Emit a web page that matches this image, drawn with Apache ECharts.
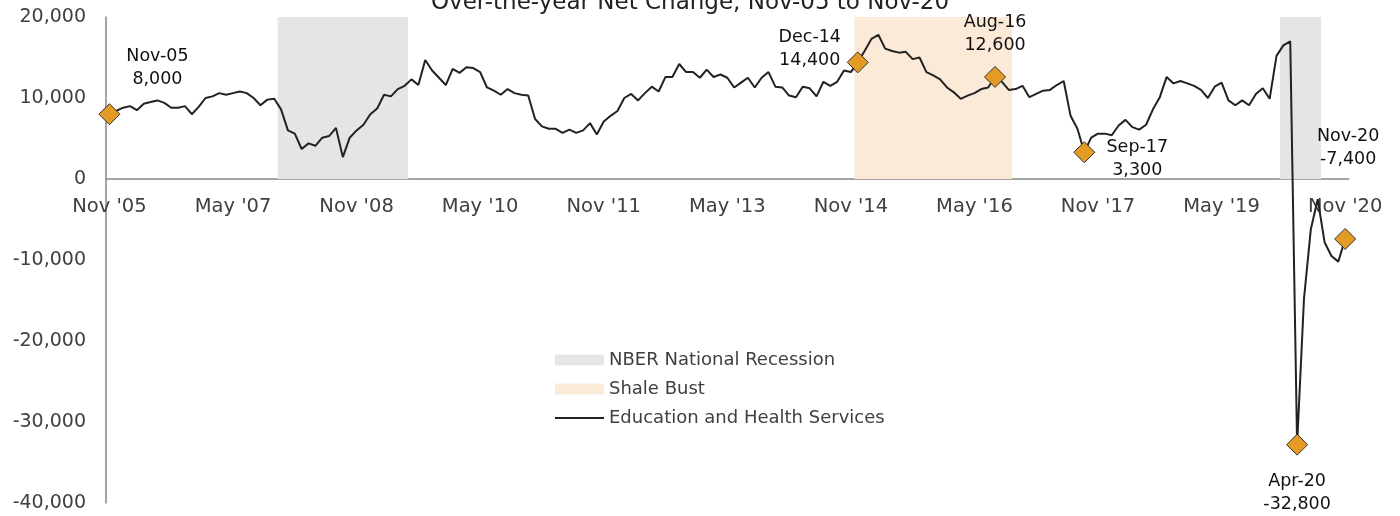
<!DOCTYPE html>
<html><head><meta charset="utf-8">
<script src="https://cdn.jsdelivr.net/npm/echarts@6/dist/echarts.min.js"></script>
<style>html,body{margin:0;padding:0;background:#fff}#c{width:1400px;height:516px}</style>
</head><body><div id="c"></div>
<script>
// ---- data ----
const monthNames = ['Jan','Feb','Mar','Apr','May','Jun','Jul','Aug','Sep','Oct','Nov','Dec'];
const firstYear = 2005, firstMonthIndex = 10, monthCount = 181; // Nov-05 .. Nov-20
const categories = [];
for (let k = 0; k < monthCount; k++) {
  const m = (firstMonthIndex + k) % 12;
  const y = firstYear + Math.floor((firstMonthIndex + k) / 12);
  categories.push(monthNames[m] + '-' + String(y % 100).padStart(2, '0'));
}
const netChange = [
  8000, 8400, 8800, 9000, 8500, 9300, 9500, 9700, 9400, 8800,
  8800, 9000, 8000, 8900, 10000, 10200, 10600, 10400, 10600, 10800,
  10600, 10000, 9100, 9800, 9900, 8600, 6000, 5600, 3700, 4400,
  4100, 5100, 5300, 6300, 2700, 5100, 6000, 6700, 8000, 8700,
  10400, 10200, 11100, 11500, 12300, 11600, 14700, 13400, 12500, 11600,
  13600, 13100, 13800, 13700, 13200, 11300, 10900, 10400, 11100, 10600,
  10400, 10300, 7400, 6500, 6200, 6200, 5700, 6100, 5700, 6000,
  6900, 5500, 7100, 7800, 8400, 10000, 10500, 9700, 10600, 11400,
  10800, 12600, 12600, 14200, 13200, 13200, 12500, 13500, 12600, 12900,
  12500, 11300, 11900, 12500, 11300, 12500, 13200, 11400, 11300, 10300,
  10100, 11400, 11200, 10200, 12000, 11500, 12000, 13400, 13200, 14400,
  15800, 17300, 17800, 16100, 15800, 15600, 15700, 14800, 15000, 13200,
  12800, 12300, 11300, 10700, 9900, 10300, 10600, 11100, 11300, 12600,
  12000, 11000, 11100, 11500, 10100, 10500, 10900, 11000, 11600, 12100,
  7800, 6200, 3300, 5100, 5600, 5600, 5400, 6600, 7300, 6400,
  6100, 6700, 8600, 10100, 12600, 11800, 12100, 11800, 11500, 11000,
  10000, 11400, 11900, 9700, 9100, 9700, 9100, 10500, 11200, 9900,
  15200, 16500, 17000, -32800, -14800, -6200, -2500, -7800, -9500, -10200,
  -7400
];
const tickLabels = ["Nov '05","May '07","Nov '08","May '10","Nov '11","May '13","Nov '14","May '16","Nov '17","May '19","Nov '20"];
const recessionPeriods = [['Dec-07','Jun-09'], ['Feb-20','Jul-20']];
const shalePeriods = [['Dec-14','Oct-16']];
const calloutMonths = ['Nov-05','Dec-14','Aug-16','Sep-17','Apr-20','Nov-20'];
const bandTop = 20000;
const titleText = 'Over-the-year Net Change, Nov-05 to Nov-20';

// ---- chart ----
const FONT = 'DejaVu Sans';
const Y_MIN = -40000, Y_MAX = 20000;
const GRID_TOP = 17, GRID_BOTTOM = 13, CHART_H = 516;
const gridH = CHART_H - GRID_TOP - GRID_BOTTOM;
const zeroOffset = -gridH * (0 - Y_MIN) / (Y_MAX - Y_MIN);

const bandSeries = (name, periods, color) => ({
  name, type: 'custom', silent: true, z: 1,
  itemStyle: { color },
  data: periods.map(p => [categories.indexOf(p[0]), categories.indexOf(p[1])]),
  encode: { x: [0, 1] },
  renderItem: (params, api) => {
    const bw = api.size([1, 0])[0];
    const p0 = api.coord([api.value(0), bandTop]);
    const p1 = api.coord([api.value(1), 0]);
    return { type: 'rect', shape: { x: p0[0] - bw / 2, y: p0[1], width: p1[0] - p0[0] + bw, height: p1[1] - p0[1] },
      style: { fill: color } };
  }
});

const labelOffsets = {
  'Nov-05': [48, -46], 'Dec-14': [-48, -13], 'Aug-16': [0, -43],
  'Sep-17': [53, 7], 'Apr-20': [0, 48], 'Nov-20': [3, -91]
};
const calloutData = calloutMonths.map(m => {
  const v = netChange[categories.indexOf(m)];
  return {
    value: [m, v],
    label: { show: true, position: 'inside', offset: labelOffsets[m],
      formatter: m + '\n' + v.toLocaleString('en-US') }
  };
});

const chart = echarts.init(document.getElementById('c'), null, { renderer: 'canvas' });
chart.setOption({
  animation: false,
  backgroundColor: '#fff',
  graphic: [{
    type: 'text', x: 690, y: 15, z: 10,
    style: { text: titleText, font: '23px "' + FONT + '"', fill: '#222',
      align: 'center', verticalAlign: 'bottom', textAlign: 'center', textVerticalAlign: 'bottom' }
  }],
  grid: { left: 106, right: 51.4, top: GRID_TOP, bottom: GRID_BOTTOM, containLabel: false, outerBoundsMode: 'none' },
  legend: {
    orient: 'vertical', left: 554, top: 350, padding: 0, itemWidth: 49, itemHeight: 11, itemGap: 9,
    textStyle: { fontFamily: FONT, fontSize: 18, color: '#404040', lineHeight: 20 },
    data: [
      { name: 'NBER National Recession', icon: 'rect' },
      { name: 'Shale Bust', icon: 'rect' },
      { name: 'Education and Health Services', itemStyle: { opacity: 0 } }
    ]
  },
  xAxis: {
    type: 'category', data: categories, boundaryGap: true, position: 'bottom', offset: zeroOffset,
    axisLine: { onZero: false, lineStyle: { color: '#868686', width: 1.5 } },
    axisTick: { interval: 17, length: 6, alignWithLabel: false, lineStyle: { color: '#868686', width: 1.5 } },
    axisLabel: {
      interval: 17, margin: 18, fontFamily: FONT, fontSize: 19.5, color: '#404040',
      formatter: (v, i) => (i % 18 === 0 ? tickLabels[i / 18] : '')
    },
    splitLine: { show: false }
  },
  yAxis: {
    type: 'value', min: Y_MIN, max: Y_MAX, interval: 10000,
    axisLine: { show: true, lineStyle: { color: '#868686', width: 1.5 } },
    axisTick: { show: false },
    splitLine: { show: false },
    axisLabel: { margin: 20, fontFamily: FONT, fontSize: 19, color: '#404040',
      formatter: v => v.toLocaleString('en-US') }
  },
  series: [
    bandSeries('NBER National Recession', recessionPeriods, '#e5e5e5'),
    bandSeries('Shale Bust', shalePeriods, '#fbead7'),
    { name: 'Education and Health Services', type: 'line', data: netChange, symbol: 'none', showSymbol: false,
      lineStyle: { color: '#222', width: 2 }, itemStyle: { color: '#222' }, z: 3 },
    { name: 'callouts', type: 'scatter', data: calloutData, symbol: 'diamond', symbolSize: 21,
      itemStyle: { color: '#e39b26', borderColor: '#333', borderWidth: 1, opacity: 1 },
      label: { fontFamily: FONT, fontSize: 17.5, color: '#111', lineHeight: 23, align: 'center', verticalAlign: 'middle' },
      z: 5 }
  ]
});
</script></body></html>
